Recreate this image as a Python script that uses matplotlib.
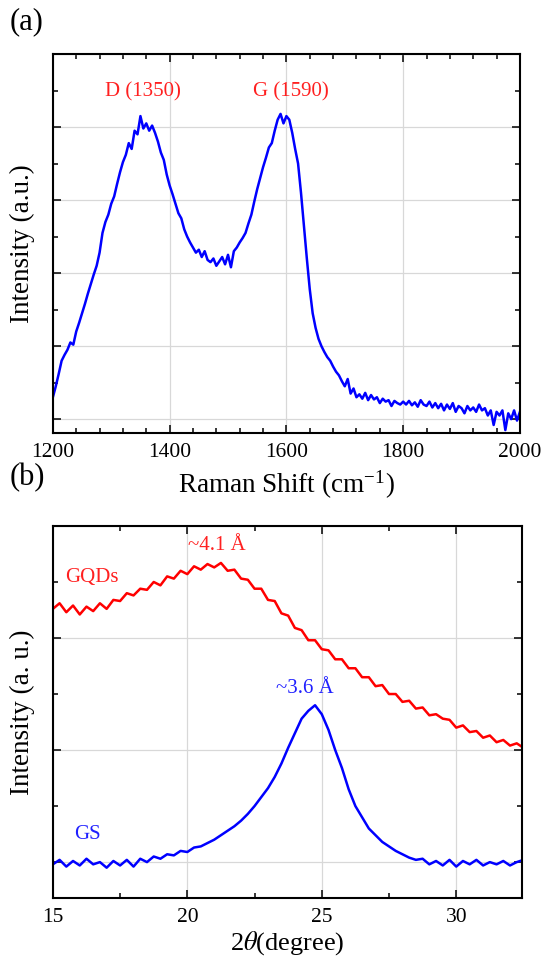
import numpy as np
import matplotlib
matplotlib.use('Agg')
import matplotlib.pyplot as plt
from matplotlib.ticker import MultipleLocator

plt.rcParams['font.family'] = ['Liberation Serif', 'DejaVu Serif']
plt.rcParams['mathtext.fontset'] = 'stix'

# (a) Raman spectrum, 1200-2000 cm-1 every 5
raman_shift = np.arange(1200, 2001, 5)
raman_int = [
    0.30, 0.45, 0.62, 0.80, 0.88, 0.95, 1.05, 1.02, 1.20, 1.32,
    1.45, 1.58, 1.72, 1.85, 1.98, 2.10, 2.28, 2.55, 2.70, 2.80,
    2.95, 3.05, 3.22, 3.38, 3.52, 3.62, 3.78, 3.70, 3.95, 3.90,
    4.15, 3.98, 4.05, 3.95, 4.02, 3.92, 3.80, 3.65, 3.55, 3.35,
    3.20, 3.08, 2.95, 2.82, 2.75, 2.60, 2.50, 2.42, 2.35, 2.28,
    2.32, 2.22, 2.30, 2.18, 2.15, 2.20, 2.10, 2.16, 2.22, 2.12,
    2.25, 2.08, 2.30, 2.35, 2.42, 2.48, 2.55, 2.68, 2.80, 2.98,
    3.15, 3.30, 3.45, 3.58, 3.72, 3.78, 3.95, 4.10, 4.18, 4.05,
    4.15, 4.10, 3.92, 3.70, 3.50, 3.10, 2.65, 2.20, 1.78, 1.45,
    1.25, 1.10, 1.00, 0.92, 0.85, 0.80, 0.72, 0.65, 0.60, 0.52,
    0.45, 0.55, 0.35, 0.42, 0.30, 0.34, 0.28, 0.36, 0.26, 0.33,
    0.27, 0.30, 0.22, 0.28, 0.24, 0.26, 0.18, 0.25, 0.22, 0.20,
    0.24, 0.20, 0.25, 0.19, 0.23, 0.17, 0.26, 0.20, 0.18, 0.24,
    0.16, 0.22, 0.15, 0.21, 0.12, 0.20, 0.14, 0.22, 0.10, 0.18,
    0.15, 0.08, 0.18, 0.12, 0.16, 0.10, 0.20, 0.12, 0.15, 0.05,
    0.12, -0.08, 0.10, 0.05, 0.12, -0.15, 0.08, 0.00, 0.12, -0.02,
    0.10,
]

# (b) XRD patterns, 2theta 15-32.5 every 0.25
two_theta = np.arange(15, 32.51, 0.25)
gqds = [
    2.26, 2.31, 2.23, 2.29, 2.21, 2.28, 2.24, 2.31, 2.26, 2.34,
    2.33, 2.40, 2.38, 2.44, 2.43, 2.50, 2.47, 2.55, 2.53, 2.60,
    2.57, 2.64, 2.61, 2.66, 2.63, 2.67, 2.60, 2.61, 2.53, 2.52,
    2.44, 2.44, 2.34, 2.33, 2.22, 2.20, 2.09, 2.07, 1.98, 1.98,
    1.90, 1.89, 1.81, 1.81, 1.73, 1.73, 1.65, 1.65, 1.57, 1.58,
    1.50, 1.50, 1.43, 1.44, 1.37, 1.38, 1.31, 1.32, 1.28, 1.27,
    1.20, 1.22, 1.16, 1.17, 1.11, 1.13, 1.07, 1.09, 1.04, 1.06,
    1.02,
]
gs = [
    -0.02, 0.02, -0.04, 0.01, -0.03, 0.03, -0.02, 0.00, -0.05, 0.01,
    -0.03, 0.02, -0.04, 0.03, 0.00, 0.05, 0.03, 0.07, 0.06, 0.10,
    0.09, 0.13, 0.14, 0.17, 0.20, 0.24, 0.28, 0.32, 0.37, 0.43,
    0.50, 0.58, 0.66, 0.76, 0.88, 1.02, 1.15, 1.28, 1.35, 1.40,
    1.32, 1.18, 1.00, 0.84, 0.65, 0.50, 0.40, 0.30, 0.24, 0.18,
    0.14, 0.10, 0.07, 0.04, 0.02, 0.03, -0.02, 0.01, -0.03, 0.02,
    -0.04, 0.01, -0.02, 0.02, -0.03, 0.00, -0.02, 0.01, -0.03, 0.00,
    0.02,
]


def style_axes(ax, xmajor, xminor, ymajor, yminor):
    ax.xaxis.set_major_locator(MultipleLocator(xmajor))
    ax.xaxis.set_minor_locator(MultipleLocator(xminor))
    ax.yaxis.set_major_locator(MultipleLocator(ymajor))
    ax.yaxis.set_minor_locator(MultipleLocator(yminor))
    ax.tick_params(which='both', direction='in', top=True, right=True,
                   width=1.1, labelsize=15.5, pad=7)
    ax.tick_params(which='major', length=6)
    ax.tick_params(which='minor', length=3.5)
    ax.set_yticklabels([])
    ax.grid(True, which='major', color='#d8d8d8', lw=0.9)
    ax.set_axisbelow(True)
    for s in ax.spines.values():
        s.set_linewidth(1.5)


fig = plt.figure(figsize=(5.45, 9.61), dpi=100)

# (a)
ax1 = fig.add_axes([0.097, 0.5494, 0.857, 0.3944])
ax1.plot(raman_shift, raman_int, color='#0000ff', lw=1.8)
ax1.set_xlim(1200, 2000)
ax1.set_ylim(-0.19, 5)
style_axes(ax1, 200, 40, 1, 0.5)
ax1.set_xlabel('Raman Shift (cm$^{\\mathregular{-1}}$)', fontsize=19.5, labelpad=5)
ax1.set_ylabel('Intensity (a.u.)', fontsize=19.5, labelpad=6)
ax1.text(1354, 4.48, 'D (1350)', color='#ff2020', fontsize=15, ha='center', va='center')
ax1.text(1607, 4.48, 'G (1590)', color='#ff2020', fontsize=15, ha='center', va='center')
fig.text(0.018, 0.992, '(a)', fontsize=22, va='top')

# (b)
ax2 = fig.add_axes([0.097, 0.0656, 0.861, 0.3871])
ax2.plot(two_theta, gqds, color='#ff0000', lw=1.8)
ax2.plot(two_theta, gs, color='#0000ff', lw=1.8)
ax2.set_xlim(15, 32.45)
ax2.set_ylim(-0.32, 3)
style_axes(ax2, 5, 2.5, 1, 0.5)
ax2.set_xlabel('2$\\theta$(degree)', fontsize=19, labelpad=2)
ax2.set_ylabel('Intensity (a. u.)', fontsize=19.5, labelpad=6)
ax2.text(16.44, 2.54, 'GQDs', color='#ff2020', fontsize=15, ha='center', va='center')
ax2.text(21.1, 2.83, '~4.1 Å', color='#ff2020', fontsize=15, ha='center', va='center')
ax2.text(24.38, 1.55, '~3.6 Å', color='#2020ff', fontsize=15, ha='center', va='center')
ax2.text(16.3, 0.25, 'GS', color='#2020ff', fontsize=15, ha='center', va='center')
fig.text(0.018, 0.518, '(b)', fontsize=22, va='top')

fig.savefig('out.png', dpi=100)
